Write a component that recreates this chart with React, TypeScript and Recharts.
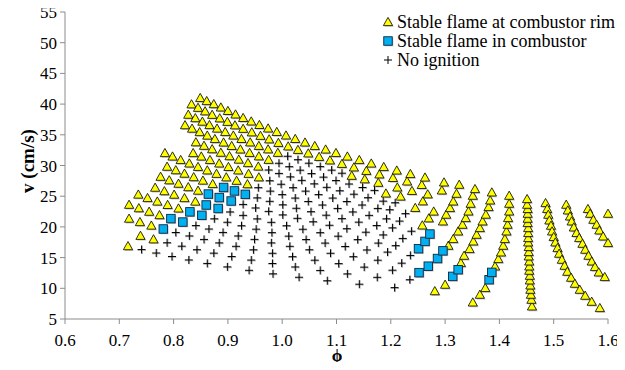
import React from "react";
import { ScatterChart, Scatter, XAxis, YAxis } from "recharts";

const xTicks = [0.6, 0.7, 0.8, 0.9, 1.0, 1.1, 1.2, 1.3, 1.4, 1.5, 1.6];
const yTicks = [5, 10, 15, 20, 25, 30, 35, 40, 45, 50, 55];
const seriesNames = ["Stable flame at combustor rim", "Stable flame in combustor", "No ignition"];

// Experimental rows (one fuel flow each): phi, v and outcome per point
// T = stable flame at combustor rim, S = stable flame in combustor, P = no ignition
const row0Phi = [0.716, 0.741, 0.768, 0.797, 0.828, 0.862, 0.899, 0.939, 0.983, 1.031, 1.083, 1.142, 1.207, 1.281];
const row0V = [16.87, 16.31, 15.75, 15.18, 14.62, 14.05, 13.49, 12.93, 12.36, 11.8, 11.23, 10.67, 10.11, 9.54];
const row0Kind = "TPPPPPPPPPPPPT";

const row1Phi = [0.739, 0.763, 0.788, 0.815, 0.843, 0.874, 0.907, 0.943, 0.982, 1.024, 1.07, 1.12, 1.175, 1.235];
const row1V = [18.55, 17.98, 17.42, 16.86, 16.29, 15.73, 15.17, 14.6, 14.04, 13.48, 12.91, 12.35, 11.79, 11.4];
const row1Kind = "TTPPPPPPPPPPPP";

const row2Phi = [0.718, 0.738, 0.759, 0.781, 0.804, 0.829, 0.856, 0.884, 0.915, 0.947, 0.982, 1.019, 1.06, 1.104, 1.151, 1.203, 1.252];
const row2V = [21.35, 20.79, 20.22, 19.66, 19.09, 18.53, 17.96, 17.4, 16.84, 16.27, 15.71, 15.15, 14.58, 14.02, 13.45, 12.95, 12.55];
const row2Kind = "TTTSPPPPPPPPPPPPS";

const row3Phi = [0.718, 0.736, 0.755, 0.774, 0.795, 0.817, 0.841, 0.865, 0.891, 0.919, 0.949, 0.98, 1.014, 1.05, 1.089, 1.131, 1.176, 1.22, 1.269];
const row3V = [23.61, 23.05, 22.48, 21.92, 21.35, 20.79, 20.22, 19.66, 19.1, 18.53, 17.97, 17.4, 16.84, 16.28, 15.71, 15.15, 14.58, 14.1, 13.6];
const row3Kind = "TTTTSSPPPPPPPPPPPPS";

const row4Phi = [0.735, 0.752, 0.77, 0.789, 0.809, 0.83, 0.852, 0.875, 0.899, 0.925, 0.952, 0.981, 1.012, 1.044, 1.079, 1.116, 1.156, 1.194, 1.236, 1.286];
const row4V = [25.27, 24.71, 24.14, 23.58, 23.01, 22.45, 21.89, 21.32, 20.76, 20.19, 19.63, 19.07, 18.5, 17.94, 17.37, 16.81, 16.25, 15.9, 15.35, 14.85];
const row4Kind = "TTTTTSSPPPPPPPPPPPPS";

const row5Phi = [0.766, 0.783, 0.801, 0.82, 0.84, 0.86, 0.882, 0.904, 0.928, 0.954, 0.98, 1.008, 1.038, 1.07, 1.103, 1.139, 1.177, 1.209, 1.251];
const row5V = [26.39, 25.82, 25.26, 24.7, 24.13, 23.57, 23.0, 22.44, 21.88, 21.31, 20.75, 20.19, 19.62, 19.06, 18.49, 17.93, 17.37, 16.95, 16.45];
const row5Kind = "TTTTTSSPPPPPPPPPPPS";

const row6Phi = [0.776, 0.792, 0.809, 0.827, 0.845, 0.864, 0.884, 0.906, 0.928, 0.951, 0.975, 1.001, 1.028, 1.057, 1.087, 1.119, 1.154, 1.186, 1.222, 1.263];
const row6V = [28.17, 27.6, 27.04, 26.48, 25.91, 25.35, 24.78, 24.22, 23.66, 23.09, 22.53, 21.96, 21.4, 20.84, 20.27, 19.71, 19.14, 18.7, 18.12, 17.64];
const row6Kind = "TTTTTSSSPPPPPPPPPPPS";

const row7Phi = [0.788, 0.804, 0.82, 0.837, 0.854, 0.872, 0.892, 0.912, 0.932, 0.954, 0.977, 1.001, 1.026, 1.053, 1.081, 1.11, 1.141, 1.174, 1.203, 1.238, 1.272];
const row7V = [29.81, 29.24, 28.68, 28.11, 27.55, 26.99, 26.42, 25.86, 25.3, 24.73, 24.17, 23.6, 23.04, 22.48, 21.91, 21.35, 20.78, 20.22, 19.85, 19.3, 18.84];
const row7Kind = "TTTTTTSSSPPPPPPPPPPPS";

const row8Phi = [0.784, 0.798, 0.813, 0.829, 0.845, 0.862, 0.879, 0.897, 0.916, 0.936, 0.956, 0.978, 1.0, 1.024, 1.048, 1.074, 1.102, 1.13, 1.16, 1.192, 1.216, 1.258];
const row8V = [32.03, 31.47, 30.9, 30.34, 29.78, 29.21, 28.65, 28.08, 27.52, 26.96, 26.39, 25.83, 25.26, 24.7, 24.14, 23.57, 23.01, 22.44, 21.88, 21.32, 20.95, 20.25];
const row8Kind = "TTTTTTTTTTPPPPPPPPPPPT";

const row9Phi = [0.836, 0.851, 0.867, 0.884, 0.901, 0.919, 0.938, 0.957, 0.977, 0.998, 1.02, 1.043, 1.067, 1.093, 1.119, 1.147, 1.176, 1.198, 1.227, 1.27];
const row9V = [32.03, 31.47, 30.9, 30.34, 29.77, 29.21, 28.65, 28.08, 27.52, 26.95, 26.39, 25.83, 25.26, 24.7, 24.13, 23.57, 23.01, 22.8, 22.16, 21.4];
const row9Kind = "TTTTTTTTPPPPPPPPPPPT";

const row10Phi = [0.841, 0.856, 0.871, 0.887, 0.903, 0.92, 0.937, 0.956, 0.975, 0.994, 1.015, 1.036, 1.059, 1.082, 1.106, 1.132, 1.158, 1.186, 1.208, 1.245, 1.279];
const row10V = [33.79, 33.22, 32.66, 32.09, 31.53, 30.97, 30.4, 29.84, 29.27, 28.71, 28.15, 27.58, 27.02, 26.45, 25.89, 25.33, 24.76, 24.2, 23.94, 23.1, 22.51];
const row10Kind = "TTTTTTTTPPPPPPPPPPPTT";

const row11Phi = [0.821, 0.834, 0.848, 0.862, 0.876, 0.892, 0.907, 0.923, 0.94, 0.957, 0.975, 0.994, 1.013, 1.033, 1.054, 1.076, 1.099, 1.123, 1.148, 1.17, 1.191, 1.218, 1.259];
const row11V = [36.57, 36.01, 35.45, 34.88, 34.32, 33.75, 33.19, 32.62, 32.06, 31.5, 30.93, 30.37, 29.81, 29.24, 28.68, 28.11, 27.55, 26.99, 26.42, 25.95, 25.45, 24.95, 24.17];
const row11Kind = "TTTTTTTTTTTPPPPPPPPPTTT";

const row12Phi = [0.827, 0.84, 0.853, 0.866, 0.88, 0.895, 0.91, 0.925, 0.941, 0.957, 0.974, 0.992, 1.01, 1.029, 1.049, 1.07, 1.091, 1.11, 1.128, 1.152, 1.177, 1.212, 1.239, 1.268];
const row12V = [38.28, 37.72, 37.15, 36.59, 36.02, 35.46, 34.89, 34.33, 33.77, 33.2, 32.64, 32.07, 31.51, 30.95, 30.38, 29.82, 29.25, 28.75, 28.33, 27.76, 27.19, 26.43, 25.87, 25.31];
const row12Kind = "TTTTTTTTTTTTPPPPPPTTTTTT";

const row13Phi = [0.833, 0.845, 0.858, 0.871, 0.885, 0.899, 0.913, 0.928, 0.944, 0.96, 0.976, 0.993, 1.011, 1.029, 1.048, 1.068, 1.088, 1.11, 1.132, 1.155, 1.179, 1.204, 1.23, 1.257];
const row13V = [39.97, 39.4, 38.83, 38.26, 37.69, 37.12, 36.55, 35.98, 35.41, 34.84, 34.27, 33.69, 33.12, 32.55, 31.98, 31.41, 30.84, 30.27, 29.7, 29.13, 28.56, 27.98, 27.41, 26.84];
const row13Kind = "TTTTTTTTTTTTTTTTTTTTTTTT";

const row14Phi = [0.849, 0.861, 0.874, 0.887, 0.9, 0.914, 0.928, 0.943, 0.958, 0.974, 0.99, 1.007, 1.024, 1.042, 1.06, 1.08, 1.099, 1.12, 1.142, 1.164, 1.187, 1.211, 1.236, 1.263];
const row14V = [41.0, 40.5, 40.0, 39.46, 38.89, 38.32, 37.75, 37.18, 36.61, 36.04, 35.47, 34.9, 34.33, 33.75, 33.18, 32.61, 32.04, 31.47, 30.9, 30.33, 29.76, 29.19, 28.62, 28.05];
const row14Kind = "TTTTTTTTTTTTTTTTTTTTTTTT";

// Right-hand bands
const bandL1Phi = [1.294, 1.298];
const bandL1V = [25.94, 27.25];
const bandL1Kind = "TT";

const bandL1bPhi = [1.296, 1.302, 1.309, 1.315, 1.321, 1.326];
const bandL1bV = [20.9, 22.0, 23.08, 24.15, 25.41, 26.87];
const bandL1bKind = "TTTTTT";

const bandL2Phi = [1.296, 1.306, 1.315, 1.324, 1.332, 1.338, 1.343, 1.347, 1.351, 1.355];
const bandL2V = [16.1, 16.94, 18.03, 19.27, 20.36, 21.45, 22.52, 23.78, 25.08, 26.17];
const bandL2Kind = "STTTTTTTTT";

const bandL3Phi = [1.3, 1.314, 1.324, 1.329, 1.335, 1.345, 1.352, 1.358, 1.364, 1.369, 1.375, 1.38, 1.383, 1.386];
const bandL3V = [10.59, 11.94, 13.03, 14.12, 15.31, 16.4, 17.64, 18.73, 19.82, 20.9, 22.0, 23.24, 24.32, 25.62];
const bandL3Kind = "TSSTTTTTTTTTTT";

const bandL4Phi = [1.351, 1.364, 1.374, 1.381, 1.386, 1.392, 1.398, 1.403, 1.407, 1.41, 1.413, 1.415, 1.416, 1.418, 1.418, 1.418];
const bandL4V = [7.7, 8.96, 10.05, 11.4, 12.59, 13.57, 14.77, 15.85, 16.94, 18.03, 19.27, 20.36, 21.45, 22.52, 23.78, 25.08];
const bandL4Kind = "TTTSSTTTTTTTTTTT";

const bandVPhi = [1.46, 1.459, 1.458, 1.457, 1.457, 1.456, 1.456, 1.455, 1.455, 1.455, 1.454, 1.454, 1.454, 1.453, 1.453, 1.453, 1.453, 1.452, 1.452, 1.452, 1.452, 1.451, 1.451];
const bandVV = [7.05, 8.14, 8.96, 9.77, 10.47, 11.29, 12.05, 12.87, 13.57, 14.38, 15.2, 15.91, 16.73, 17.48, 18.19, 19.01, 19.82, 20.64, 21.34, 22.15, 22.92, 23.62, 24.54];
const bandVKind = "TTTTTTTTTTTTTTTTTTTTTTT";

const band3Phi = [1.485, 1.488, 1.49, 1.492, 1.495, 1.497, 1.5, 1.503, 1.507, 1.51, 1.515, 1.52, 1.525, 1.532, 1.539, 1.548, 1.558, 1.57, 1.585];
const band3V = [23.89, 22.92, 21.99, 21.06, 20.2, 19.27, 18.36, 17.48, 16.56, 15.64, 14.66, 13.68, 12.7, 11.73, 10.75, 9.77, 8.8, 7.82, 6.79];
const band3Kind = "TTTTTTTTTTTTTTTTTTT";

const band4Phi = [1.523, 1.526, 1.53, 1.533, 1.537, 1.542, 1.547, 1.553, 1.558, 1.564, 1.57, 1.576, 1.583, 1.594];
const band4V = [23.62, 22.69, 21.71, 20.9, 19.92, 19.01, 18.19, 17.26, 16.29, 15.31, 14.38, 13.47, 12.59, 11.84];
const band4Kind = "TTTTTTTTTTTTTT";

const band5Phi = [1.563, 1.567, 1.573, 1.579, 1.584, 1.591, 1.6, 1.6];
const band5V = [22.92, 22.15, 21.17, 20.36, 19.43, 18.45, 17.38, 22.15];
const band5Kind = "TTTTTTTT";

const rowSets: [number[], number[], string][] = [
  [row0Phi, row0V, row0Kind],
  [row1Phi, row1V, row1Kind],
  [row2Phi, row2V, row2Kind],
  [row3Phi, row3V, row3Kind],
  [row4Phi, row4V, row4Kind],
  [row5Phi, row5V, row5Kind],
  [row6Phi, row6V, row6Kind],
  [row7Phi, row7V, row7Kind],
  [row8Phi, row8V, row8Kind],
  [row9Phi, row9V, row9Kind],
  [row10Phi, row10V, row10Kind],
  [row11Phi, row11V, row11Kind],
  [row12Phi, row12V, row12Kind],
  [row13Phi, row13V, row13Kind],
  [row14Phi, row14V, row14Kind],
  [bandL1Phi, bandL1V, bandL1Kind],
  [bandL1bPhi, bandL1bV, bandL1bKind],
  [bandL2Phi, bandL2V, bandL2Kind],
  [bandL3Phi, bandL3V, bandL3Kind],
  [bandL4Phi, bandL4V, bandL4Kind],
  [bandVPhi, bandVV, bandVKind],
  [band3Phi, band3V, band3Kind],
  [band4Phi, band4V, band4Kind],
  [band5Phi, band5V, band5Kind],
];

type Pt = { x: number; y: number };
const rimData: Pt[] = [];
const inData: Pt[] = [];
const noData: Pt[] = [];
rowSets.forEach(([p, v, k]) => {
  p.forEach((x, i) => {
    const pt = { x, y: v[i] };
    const c = k[i] || "T";
    if (c === "S") inData.push(pt);
    else if (c === "P") noData.push(pt);
    else rimData.push(pt);
  });
});

const FONT = "Liberation Serif";
const AXIS = "#8c8c8c";

const triPts = (cx: number, cy: number) =>
  `${cx},${cy - 4.6} ${cx - 4.6},${cy + 3.6} ${cx + 4.6},${cy + 3.6}`;

const Tri = (props: any) => {
  const { cx, cy } = props;
  if (cx == null || cy == null) return null;
  return (
    <g>
      <polygon points={triPts(cx + 1.2, cy + 1.2)} fill="#7a7a7a" opacity={0.45} />
      <polygon points={triPts(cx, cy)} fill="#FFFF00" stroke="#000" strokeWidth={0.8} />
    </g>
  );
};

const Sq = (props: any) => {
  const { cx, cy } = props;
  if (cx == null || cy == null) return null;
  return (
    <g>
      <rect x={cx - 3.2} y={cy - 3.2} width={8.5} height={8.5} fill="#7a7a7a" opacity={0.45} />
      <rect x={cx - 4.25} y={cy - 4.25} width={8.5} height={8.5} fill="#00B0F0" stroke="#10253F" strokeWidth={0.9} />
    </g>
  );
};

const Plus = (props: any) => {
  const { cx, cy } = props;
  if (cx == null || cy == null) return null;
  return (
    <g>
      <path d={`M${cx - 4},${cy + 0.8} H${cx + 4.5} M${cx + 0.8},${cy - 4} V${cy + 4.5}`} stroke="#b0b0b0" strokeWidth={1} />
      <path d={`M${cx - 4},${cy} H${cx + 4} M${cx},${cy - 4} V${cy + 4}`} stroke="#000" strokeWidth={1} />
    </g>
  );
};

const XTick = (props: any) => {
  const { x, y, payload } = props;
  return (
    <text x={x} y={y} dy={13} textAnchor="middle" style={{ fontFamily: FONT, fontSize: 17 }} fill="#000">
      {Number(payload.value).toFixed(1)}
    </text>
  );
};

const YTick = (props: any) => {
  const { x, y, payload } = props;
  return (
    <text x={x} y={y} dy={6} textAnchor="end" style={{ fontFamily: FONT, fontSize: 17 }} fill="#000">
      {payload.value}
    </text>
  );
};

const txt = { fontFamily: FONT };

export default function App() {
  return (
    <div style={{ position: "relative", width: 625, height: 370, margin: -8, fontFamily: FONT }}>
      <ScatterChart width={625} height={370} margin={{ top: 12, right: 17, bottom: 11, left: 0 }} style={txt}>
        <XAxis
          type="number"
          dataKey="x"
          domain={[0.6, 1.6]}
          ticks={xTicks}
          stroke={AXIS}
          tickSize={5}
          tickMargin={9}
          height={40}
          tick={(p: any) => <XTick {...p} />}
          interval={0}
        />
        <YAxis
          type="number"
          dataKey="y"
          domain={[5, 55]}
          ticks={yTicks}
          stroke={AXIS}
          tickSize={5}
          tickMargin={3}
          width={65}
          tick={(p: any) => <YTick {...p} />}
          interval={0}
        />
        <Scatter name={seriesNames[0]} data={rimData} shape={Tri} isAnimationActive={false} />
        <Scatter name={seriesNames[1]} data={inData} shape={Sq} isAnimationActive={false} />
        <Scatter name={seriesNames[2]} data={noData} shape={Plus} isAnimationActive={false} />
      </ScatterChart>
      <svg width={625} height={370} style={{ position: "absolute", left: 0, top: 0, pointerEvents: "none" }}>
        <text x={27} y={161} transform="rotate(-90 27 161)" textAnchor="middle" dominantBaseline="central" style={txt} fontWeight="bold" fontSize={19} fill="#000">
          v (cm/s)
        </text>
        <text x={337} y={361} textAnchor="middle" fontWeight="bold" fontSize={17} fill="#000">
          ϕ
        </text>
        <g>
          <polygon points={triPts(389.2, 23.2)} fill="#7a7a7a" opacity={0.45} />
          <polygon points={triPts(388, 22)} fill="#FFFF00" stroke="#000" strokeWidth={0.8} />
          <text x={397} y={28} style={txt} fontSize={18} fill="#000">{seriesNames[0]}</text>
          <rect x={384.8} y={37.8} width={8.5} height={8.5} fill="#7a7a7a" opacity={0.45} />
          <rect x={383.75} y={36.75} width={8.5} height={8.5} fill="#00B0F0" stroke="#10253F" strokeWidth={0.9} />
          <text x={397} y={47} style={txt} fontSize={18} fill="#000">{seriesNames[1]}</text>
          <path d="M384,60 H392 M388,56 V64" stroke="#000" strokeWidth={1} />
          <text x={397} y={66} style={txt} fontSize={18} fill="#000">{seriesNames[2]}</text>
        </g>
      </svg>
    </div>
  );
}
